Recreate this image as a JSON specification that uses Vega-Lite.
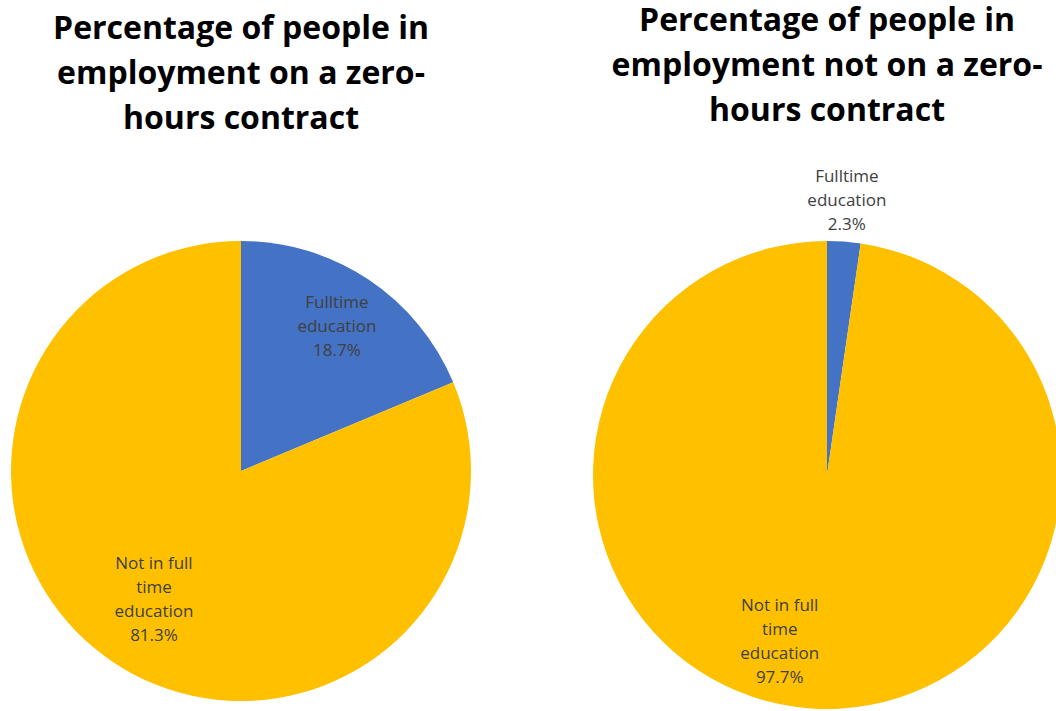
{
  "$schema": "https://vega.github.io/schema/vega-lite/v6.json",
  "padding": {"top": 4, "left": 0, "right": 0, "bottom": 0},
  "spacing": 0,
  "background": "white",
  "config": {
    "view": {"stroke": null},
    "title": {"font": "Open Sans", "fontSize": 32, "fontWeight": "bold", "color": "#000000", "lineHeight": 45, "anchor": "middle"}
  },
  "datasets": {
    "pies": [
      {"chart": "zero", "category": "Fulltime education", "value": 18.7, "label": "Fulltime\neducation\n18.7%"},
      {"chart": "zero", "category": "Not in full time education", "value": 81.3, "label": "Not in full\ntime\neducation\n81.3%"},
      {"chart": "notzero", "category": "Fulltime education", "value": 2.3, "label": "Fulltime\neducation\n2.3%"},
      {"chart": "notzero", "category": "Not in full time education", "value": 97.7, "label": "Not in full\ntime\neducation\n97.7%"}
    ]
  },
  "hconcat": [
    {
      "width": 482,
      "height": 478,
      "title": {"text": ["Percentage of people in", "employment on a zero-", "hours contract"], "offset": 96},
      "data": {"name": "pies"},
      "transform": [{"filter": "datum.chart === 'zero'"}],
      "encoding": {
        "theta": {"field": "value", "type": "quantitative", "stack": true},
        "detail": {"field": "category", "type": "nominal"}
      },
      "layer": [
        {
          "mark": {"type": "arc", "outerRadius": 230},
          "encoding": {
            "color": {"field": "category", "type": "nominal", "legend": null,
              "scale": {"domain": ["Fulltime education", "Not in full time education"], "range": ["#4472C4", "#FFC000"]}}
          }
        },
        {
          "mark": {"type": "text", "radius": 173, "dy": -24, "font": "Open Sans", "fontSize": 17, "color": "#404040", "lineBreak": "\n", "lineHeight": 24, "align": "center", "baseline": "middle"},
          "encoding": {
            "text": {"condition": {"test": "datum.category === 'Fulltime education'", "field": "label"}, "value": ""}
          }
        },
        {
          "mark": {"type": "text", "radius": 157, "dy": -38, "font": "Open Sans", "fontSize": 17, "color": "#404040", "lineBreak": "\n", "lineHeight": 24, "align": "center", "baseline": "middle"},
          "encoding": {
            "text": {"condition": {"test": "datum.category === 'Not in full time education'", "field": "label"}, "value": ""}
          }
        }
      ]
    },
    {
      "width": 690,
      "height": 486,
      "title": {"text": ["Percentage of people in", "employment not on a zero-", "hours contract"], "offset": 40},
      "data": {"name": "pies"},
      "transform": [{"filter": "datum.chart === 'notzero'"}],
      "encoding": {
        "theta": {"field": "value", "type": "quantitative", "stack": true},
        "detail": {"field": "category", "type": "nominal"}
      },
      "layer": [
        {
          "mark": {"type": "arc", "outerRadius": 234},
          "encoding": {
            "color": {"field": "category", "type": "nominal", "legend": null,
              "scale": {"domain": ["Fulltime education", "Not in full time education"], "range": ["#4472C4", "#FFC000"]}}
          }
        },
        {
          "mark": {"type": "text", "radius": 275, "dy": -24, "font": "Open Sans", "fontSize": 17, "color": "#404040", "lineBreak": "\n", "lineHeight": 24, "align": "center", "baseline": "middle"},
          "encoding": {
            "text": {"condition": {"test": "datum.category === 'Fulltime education'", "field": "label"}, "value": ""}
          }
        },
        {
          "mark": {"type": "text", "radius": 170, "dx": -35, "dy": -39, "font": "Open Sans", "fontSize": 17, "color": "#404040", "lineBreak": "\n", "lineHeight": 24, "align": "center", "baseline": "middle"},
          "encoding": {
            "text": {"condition": {"test": "datum.category === 'Not in full time education'", "field": "label"}, "value": ""}
          }
        }
      ]
    }
  ]
}
